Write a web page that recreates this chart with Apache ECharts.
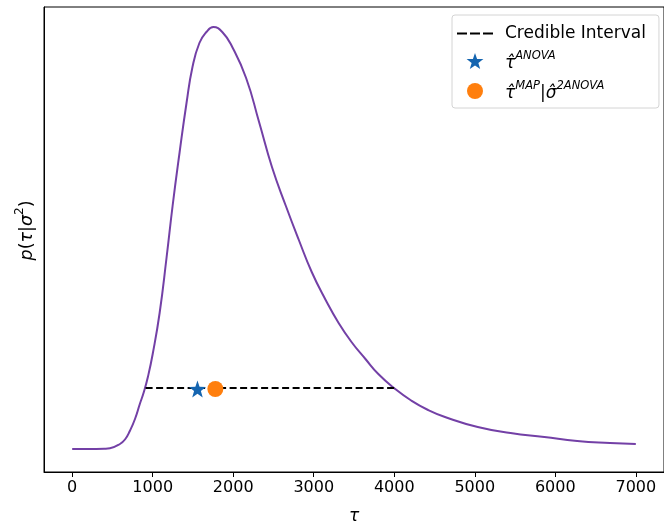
<!DOCTYPE html>
<html><head><meta charset="utf-8">
<script src="https://cdn.jsdelivr.net/npm/echarts@6/dist/echarts.min.js"></script>
<style>html,body{margin:0;padding:0;background:#fff}#c{width:664px;height:530px}</style>
</head><body><div id="c"></div>
<script>
// posterior density p(tau | sigma^2) (arbitrary units)
const tauValues = [0, 200, 400, 469, 593, 660, 716, 780, 840, 890, 940, 1000, 1086, 1173, 1247, 1333, 1420, 1494, 1580, 1667, 1753, 1864, 1988, 2160, 2321, 2481, 2654, 2815, 2975, 3148, 3309, 3469, 3642, 3802, 4012, 4210, 4420, 4630, 5037, 5444, 5864, 6272, 6679, 7000];
const densityValues = [0, 0, 0.3, 0.8, 5, 10, 18, 30, 45, 57, 72, 95, 136, 192, 243, 296, 346, 382, 406, 417, 422, 417, 402, 371, 327, 282, 243, 209, 177, 149, 126, 107, 90, 75, 60, 48.5, 39, 32, 22, 16, 12, 8, 6, 5];
const credibleTau = [912, 4012];
const credibleLevel = 61;
const tauAnova = [1556, 60];
const tauMap = [1778, 60];
const xTicks = [0, 1000, 2000, 3000, 4000, 5000, 6000, 7000];

const STAR = 'path://M0,-10 L2.35,-3.24 L9.51,-3.09 L3.8,1.24 L5.88,8.09 L0,4 L-5.88,8.09 L-3.8,1.24 L-9.51,-3.09 L-2.35,-3.24 Z';
const DASH_ICON = 'path://M0,0 L0.001,0 L0,0 Z M0,7 L10,7 L10,9 L0,9 Z M13,7 L23,7 L23,9 L13,9 Z M26,7 L36,7 L36,9 L26,9 Z M36,16 L35.999,16 L36,16 Z';
const FONT = 'DejaVu Sans';

const chart = echarts.init(document.getElementById('c'), null, {renderer: 'canvas'});
chart.setOption({
  animation: false,
  backgroundColor: '#fff',
  textStyle: {fontFamily: FONT, color: '#000'},
  grid: {left: 44, top: 7, width: 623, height: 465, show: true, borderColor: '#000', borderWidth: 1, containLabel: false},
  xAxis: {
    type: 'value', min: -350, max: 7350,
    name: 'τ', nameLocation: 'middle', nameGap: 36,
    nameTextStyle: {fontFamily: FONT, fontSize: 17, fontStyle: 'italic', color: '#000'},
    axisLine: {show: true, onZero: false, lineStyle: {color: '#000', width: 1}},
    axisTick: {show: true, length: 5, lineStyle: {color: '#000'}, customValues: xTicks},
    axisLabel: {fontFamily: FONT, fontSize: 16, color: '#000', margin: 8, customValues: xTicks, formatter: v => String(v)},
    splitLine: {show: false}
  },
  yAxis: {
    type: 'value', min: -23, max: 442,
    name: '{sp| }{i|p}{r|(}{i|τ}{r||}{i|σ}{s|2}{r|)}', nameLocation: 'middle', nameGap: 8, nameRotate: 90,
    nameTextStyle: {
      fontFamily: FONT, fontSize: 17, color: '#000',
      rich: {
        sp: {fontSize: 10, width: 18, lineHeight: 22},
        i: {fontFamily: FONT, fontSize: 17.5, fontStyle: 'italic', lineHeight: 22, verticalAlign: 'bottom', color: '#000'},
        r: {fontFamily: FONT, fontSize: 17.5, lineHeight: 22, verticalAlign: 'bottom', color: '#000'},
        s: {fontFamily: FONT, fontSize: 12, lineHeight: 22, verticalAlign: 'top', color: '#000'}
      }
    },
    axisLine: {show: true, onZero: false, lineStyle: {color: '#000', width: 1}},
    axisTick: {show: false}, axisLabel: {show: false}, splitLine: {show: false}
  },
  legend: {
    orient: 'vertical', left: 452, top: 15,
    padding: [10, 13, 6, 5], itemGap: 8, itemWidth: 36, itemHeight: 16,
    borderColor: '#d4d4d4', borderWidth: 1, borderRadius: 3, backgroundColor: '#fff',
    data: [
      {name: 'Credible Interval', icon: DASH_ICON, itemStyle: {color: '#000', opacity: 1}},
      {name: 'tauANOVA'},
      {name: 'tauMAP'}
    ],
    textStyle: {
      fontFamily: FONT, fontSize: 17, color: '#000',
      rich: {
        sp: {fontSize: 10, width: 7, lineHeight: 22},
        t: {fontFamily: FONT, fontSize: 17, lineHeight: 22, color: '#000'},
        m: {fontFamily: FONT, fontSize: 17, fontStyle: 'italic', lineHeight: 22, verticalAlign: 'bottom', color: '#000'},
        s: {fontFamily: FONT, fontSize: 11.5, fontStyle: 'italic', lineHeight: 22, verticalAlign: 'top', color: '#000'},
        n: {fontFamily: FONT, fontSize: 17, lineHeight: 22, verticalAlign: 'bottom', color: '#000'}
      }
    },
    formatter: function (name) {
      if (name === 'tauANOVA') return '{sp| }{m|τ̂}{s|ANOVA}';
      if (name === 'tauMAP') return '{sp| }{m|τ̂}{s|MAP}{n||}{m|σ̂}{s|2ANOVA}';
      return '{sp| }{t|' + name + '}';
    }
  },
  series: [
    {
      name: 'density', type: 'line', showSymbol: false, symbol: 'none',
      smooth: 0.5,
      data: tauValues.map((t, i) => [t, densityValues[i]]),
      lineStyle: {color: '#7340a6', width: 2}, z: 2
    },
    {
      name: 'Credible Interval', type: 'line', symbol: 'none', showSymbol: false,
      data: credibleTau.map(t => [t, credibleLevel]),
      lineStyle: {color: '#000', width: 2, type: [7, 3.5]}, itemStyle: {color: '#000'}, z: 3
    },
    {
      name: 'tauANOVA', type: 'scatter', symbol: STAR, symbolSize: 17,
      data: [tauAnova], itemStyle: {color: '#1565b0', opacity: 1}, z: 5
    },
    {
      name: 'tauMAP', type: 'scatter', symbol: 'circle', symbolSize: 16,
      data: [tauMap], itemStyle: {color: '#ff7f0e', opacity: 1}, z: 4
    }
  ]
});
</script></body></html>
